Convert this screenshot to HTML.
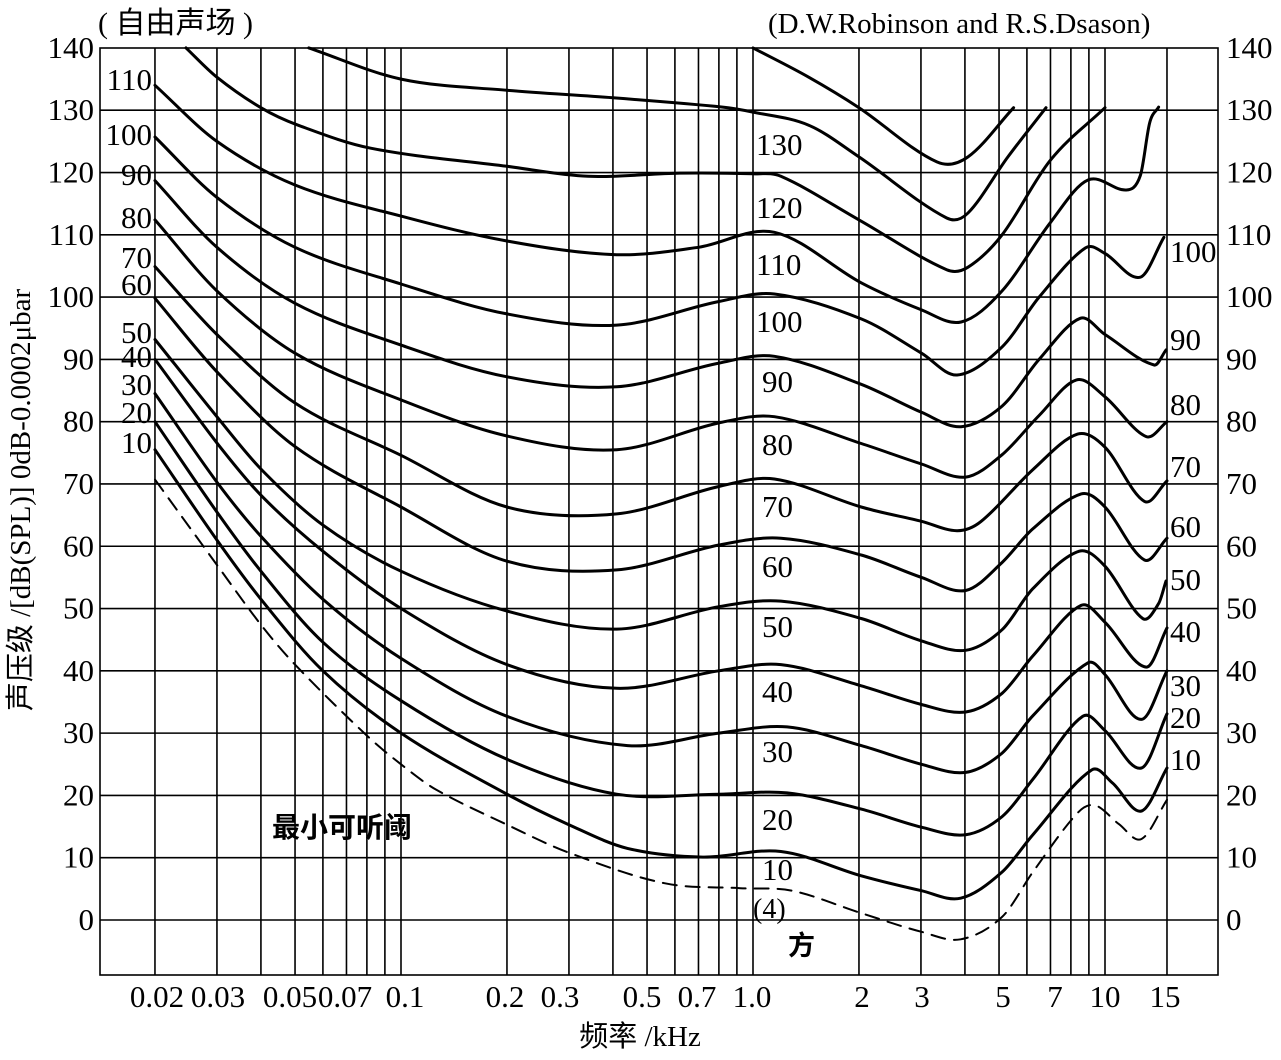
<!DOCTYPE html>
<html><head><meta charset="utf-8">
<style>
html,body{margin:0;padding:0;background:#fff;}
svg{display:block;}
text{font-family:"Liberation Serif","Noto Serif CJK SC",serif;fill:#000;}
.cj{font-family:"Liberation Serif","Noto Sans CJK SC",sans-serif;}
</style></head>
<body>
<svg id="s" width="1281" height="1060" viewBox="0 0 1281 1060" xmlns="http://www.w3.org/2000/svg">
<g id="grid" stroke="#000" stroke-width="1.6" fill="none"></g>
<g id="curves" stroke="#000" stroke-width="3" fill="none" stroke-linejoin="round" stroke-linecap="round"></g>
<g id="labels" font-size="31"></g>
<text x="98" y="33" font-size="30" class="cj">( 自由声场 )</text>
<text x="768" y="33" font-size="29">(D.W.Robinson and R.S.Dsason)</text>
<text x="272" y="837" font-size="28" class="cj" font-weight="bold">最小可听阈</text>
<text x="788" y="955" font-size="27" class="cj" font-weight="bold">方</text>
<text x="753" y="918" font-size="28">(4)</text>
<text x="640" y="1046" font-size="29" text-anchor="middle" class="cj">频率 /kHz</text>
<text transform="translate(30,500) rotate(-90)" font-size="29" text-anchor="middle" class="cj">声压级 /[dB(SPL)] 0dB-0.0002μbar</text>
</svg>
<script>
var NS="http://www.w3.org/2000/svg";
function X(f){return 753+352*Math.log10(f);}
function Y(d){return 920-6.229*d;}
function el(p,tag,a,txt){var e=document.createElementNS(NS,tag);for(var k in a)e.setAttribute(k,a[k]);if(txt!==undefined)e.textContent=txt;p.appendChild(e);return e;}
var g=document.getElementById('grid');
el(g,'rect',{x:100,y:48,width:1118,height:927});
for(var d=0;d<=130;d+=10){el(g,'line',{x1:100,x2:1218,y1:Y(d),y2:Y(d)});}
var vf=[0.02,0.03,0.04,0.05,0.06,0.07,0.08,0.09,0.1,0.2,0.3,0.4,0.5,0.6,0.7,0.8,0.9,1,2,3,4,5,6,7,8,9,10,15];
vf.forEach(function(f){el(g,'line',{x1:X(f),x2:X(f),y1:48,y2:975});});
var C={
thr:[[0.02,70.7],[0.03,57],[0.04,47.4],[0.05,41],[0.08,29.6],[0.1,25],[0.126,20.9],[0.2,15.3],[0.3,10.8],[0.56,5.9],[0.92,5.1],[1.29,4.7],[2.03,1.1],[3.01,-1.9],[3.89,-3.1],[5.1,0.5],[6.24,7.7],[8.36,17.2],[9.38,18.4],[10.95,15.4],[12.7,13],[15,19.3]],
c10:[[0.02,75.5],[0.03,61],[0.04,51.5],[0.06,40],[0.1,30],[0.2,20.2],[0.3,15.3],[0.44,11.5],[0.72,10.1],[1.2,11],[2.03,7.1],[3.01,4.7],[3.89,3.5],[5.1,7.7],[6.24,13.7],[9.17,24.1],[10.5,22],[12.7,17.5],[15,24.4]],
c20:[[0.02,80],[0.03,65.5],[0.04,56],[0.06,44.6],[0.1,35.2],[0.2,25.8],[0.41,20.2],[0.8,20.2],[1.25,20.4],[2.03,17.8],[3.01,14.9],[4.02,13.7],[5.1,16.6],[6.24,22.6],[8.65,32.7],[10,30.4],[12.7,24.4],[15,33.1]],
c30:[[0.02,84.5],[0.03,70.3],[0.04,61.6],[0.06,51.5],[0.1,42],[0.2,32.7],[0.44,28],[0.8,30],[1.25,31],[2.03,28],[3.01,25],[4.02,23.7],[5.1,26.8],[6.24,32.8],[8.96,41.3],[10,39.4],[12.7,32.2],[15,40]],
c40:[[0.02,90],[0.03,76.6],[0.04,68.2],[0.06,59.2],[0.1,50],[0.2,41],[0.41,37.2],[0.8,40],[1.2,41],[2.03,37.6],[3.01,34.6],[4.02,33.4],[5.1,36.4],[6.24,42.4],[8.55,50.5],[10,47.8],[13.1,40.6],[15,46.9]],
c50:[[0.02,93.2],[0.03,80.8],[0.04,72.4],[0.06,63.4],[0.1,56],[0.2,49.6],[0.41,46.7],[0.8,50.3],[1.2,51.2],[2.03,48.4],[3.01,44.8],[4.02,43.3],[5.1,46.6],[6.24,53.2],[8.45,59.2],[10,56.8],[12.8,48.4],[14.2,50.8],[14.9,54.4]],
c60:[[0.02,99.8],[0.03,88],[0.05,76],[0.1,66.3],[0.2,57.6],[0.41,56.2],[0.8,60.2],[1.2,61.3],[2.03,58.6],[3.01,55],[4.02,52.9],[5.1,57.4],[6.24,62.8],[8.55,68.4],[10,66.3],[12.95,57.8],[15,61.3]],
c70:[[0.02,104.9],[0.03,94],[0.05,83],[0.1,74.6],[0.2,66.3],[0.41,65.2],[0.8,69.6],[1.15,70.8],[2.03,66.3],[3.01,64],[3.8,62.5],[4.45,64],[6.24,72.3],[8.36,78],[10,75.9],[12.95,67.2],[15,70.5]],
c80:[[0.02,112.4],[0.03,101],[0.05,91],[0.1,83.5],[0.2,77.7],[0.41,75.5],[0.8,79.8],[1.15,80.8],[2.03,76.5],[3.01,73.2],[4.02,71.1],[5.1,74.7],[6.5,81],[8.3,86.7],[10,84],[13.1,77.6],[15,80]],
c90:[[0.02,118.7],[0.03,108],[0.05,99],[0.1,92.3],[0.2,87.2],[0.41,85.6],[0.8,89.4],[1.15,90.5],[2.03,86],[3.01,81.5],[3.9,79.2],[5.1,82.5],[6.5,90],[8.5,96.6],[10,94],[13.8,89.1],[14.9,91.5]],
c100:[[0.02,125.7],[0.03,116],[0.05,108],[0.1,102.1],[0.2,97.3],[0.41,95.5],[0.8,99.3],[1.15,100.5],[2.03,96.5],[3.01,91],[3.8,87.5],[5.1,92],[6.5,100],[8.8,107.9],[10,107],[12.6,103.2],[14.7,109.6]],
c110:[[0.02,134],[0.03,125],[0.05,118],[0.1,113],[0.2,109],[0.41,106.8],[0.7,108],[1.15,110.4],[2.03,102.3],[3.0,98],[3.9,96],[5.1,101],[7,112],[8.95,118.8],[11.5,117.2],[12.6,119.5],[13.4,128],[14.2,130.5]],
c120:[[0.0245,140],[0.03,135.3],[0.04,130.4],[0.051,127.6],[0.082,123.9],[0.2,121],[0.34,119.4],[0.62,119.9],[1.0,119.8],[1.2,119.4],[2.0,112.4],[3.55,104.4],[4.08,104.8],[5.1,110],[7,122],[10,130.4]],
c130:[[0.0547,140],[0.1,135],[0.2,133.2],[0.4,132],[0.82,130.5],[1.0,129.7],[1.44,127.6],[2.0,122.5],[3.55,112.7],[4.08,113.5],[5.3,122.5],[6.8,130.4]],
c140:[[1.0,140],[1.44,135.3],[2.0,130.4],[3.33,121.7],[4.08,122.5],[5.5,130.4]]
};
function path(pts){
 var P=pts.map(function(p){return [X(p[0]),Y(p[1])];});
 var n=P.length,m=[];
 for(var i=0;i<n;i++){
  var a=P[Math.max(i-1,0)],b=P[Math.min(i+1,n-1)];
  m[i]=(b[1]-a[1])/(b[0]-a[0]);
 }
 var s="M"+P[0][0].toFixed(1)+" "+P[0][1].toFixed(1);
 for(var i=0;i<n-1;i++){
  var p1=P[i],p2=P[i+1],dx=p2[0]-p1[0];
  s+=" C"+(p1[0]+dx/3).toFixed(1)+" "+(p1[1]+m[i]*dx/3).toFixed(1)+" "+(p2[0]-dx/3).toFixed(1)+" "+(p2[1]-m[i+1]*dx/3).toFixed(1)+" "+p2[0].toFixed(1)+" "+p2[1].toFixed(1);
 }
 return s;
}
var cg=document.getElementById('curves');
for(var k in C){
 var a={d:path(C[k])};
 if(k==='thr'){a['stroke-dasharray']='14 9';a['stroke-width']='2';}
 el(cg,'path',a);
}
var L=document.getElementById('labels');
function t(x,y,s,anc){el(L,'text',{x:x,y:y+10,'text-anchor':anc||'start'},s);}
for(var d=0;d<=140;d+=10){t(94,Y(d),String(d),'end');t(1226,Y(d),String(d));}
[["110",80],["100",135],["90",175],["80",218],["70",258],["60",285],["50",333],["40",357],["30",385],["20",413],["10",443]].forEach(function(a){t(152,a[1],a[0],'end');});
[["130",145],["120",208],["110",265],["100",322]].forEach(function(a){t(756,a[1],a[0]);});
[["90",382],["80",445],["70",507],["60",567],["50",627],["40",692],["30",752],["20",820],["10",870]].forEach(function(a){t(762,a[1],a[0]);});
[["100",252],["90",340],["80",405],["70",467],["60",527],["50",580],["40",632],["30",686],["20",718],["10",760]].forEach(function(a){t(1170,a[1],a[0]);});
[["0.02",157],["0.03",218],["0.05",290],["0.07",345],["0.1",405],["0.2",505],["0.3",560],["0.5",642],["0.7",697],["1.0",752],["2",862],["3",922],["5",1003],["7",1055],["10",1105],["15",1165]].forEach(function(a){t(a[1],997,a[0],'middle');});
</script>
</body></html>
